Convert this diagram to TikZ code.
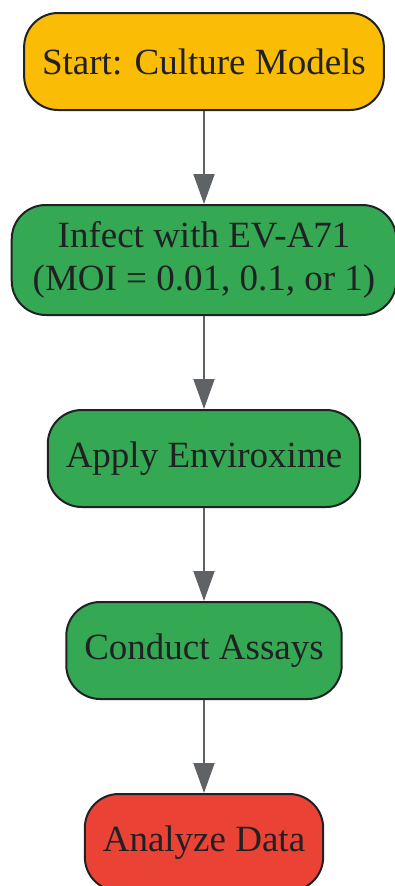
\documentclass[tikz,border=0pt]{standalone}
\usepackage{fontspec}
\setmainfont{Liberation Serif}
\usepackage{tikz}
\usetikzlibrary{positioning,arrows.meta}

\definecolor{gyellow}{HTML}{FBBC05}
\definecolor{ggreen}{HTML}{34A853}
\definecolor{gred}{HTML}{EA4335}
\definecolor{gtext}{HTML}{202124}
\definecolor{ggray}{HTML}{5F6368}

\begin{document}
\begin{tikzpicture}[
	node distance = 93pt,
	box/.style = {draw=gtext, line width=2pt, rounded corners=34pt,
		text=gtext, inner xsep=18pt, inner ysep=0pt, minimum height=97pt,
		align=center, font=\fontsize{37}{43}\selectfont},
	startbox/.style = {box, fill=gyellow},
	stepbox/.style = {box, fill=ggreen},
	endbox/.style = {box, fill=gred},
	flow/.style = {draw=ggray, line width=2pt,
		-{Triangle[length=30pt, width=21pt]}}
	]
	\useasboundingbox (0pt,0pt) rectangle (395pt,-886pt);
	\node [startbox] (culture) at (204pt,-61.5pt) {Start: Culture Models};
	\node [stepbox, minimum height=110pt, inner xsep=21pt, below=of culture] (infect)
		{Infect with EV-A71\\(MOI = 0.01, 0.1, or 1)};
	\node [stepbox, below=of infect] (enviroxime) {Apply Enviroxime};
	\node [stepbox, below=of enviroxime] (assays) {Conduct Assays};
	\node [endbox, below=of assays] (analyze) {Analyze Data};
	% connectors
	\foreach \from/\to in {culture/infect, infect/enviroxime,
		enviroxime/assays, assays/analyze}
		\draw [flow] (\from.south) -- (\to.north);
\end{tikzpicture}
\end{document}
